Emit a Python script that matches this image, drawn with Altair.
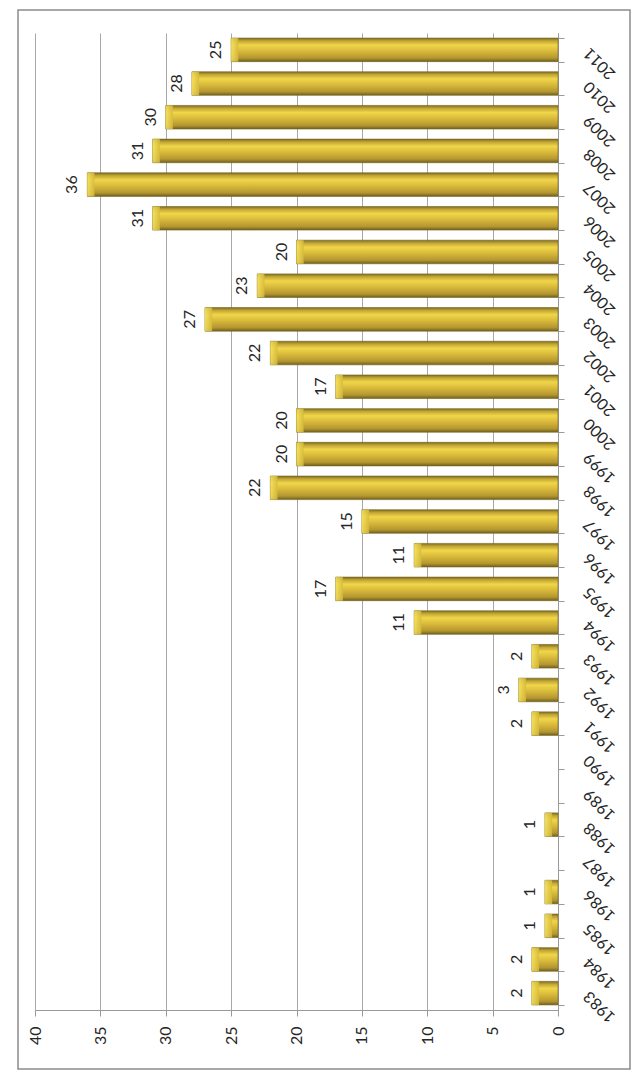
import altair as alt
import pandas as pd

years = [str(y) for y in range(1983, 2012)]
values = [2, 2, 1, 1, 0, 1, 0, 0, 2, 3, 2, 11, 17, 11, 15, 22, 20, 20, 17, 22,
          27, 23, 20, 31, 36, 31, 30, 28, 25]
value_ticks = [0, 5, 10, 15, 20, 25, 30, 35, 40]

df = pd.DataFrame({"year": years, "value": values})

FONT = "Lato"
TEXT = "#262626"
AXIS_GRAY = "#9a9a9a"

x_enc = alt.X(
    "value:Q",
    scale=alt.Scale(domain=[0, 40], reverse=True, nice=False),
    axis=alt.Axis(
        values=value_ticks, orient="bottom", title=None,
        labelAngle=270, labelAlign="right", labelBaseline="middle",
        labelFontSize=16, labelFont=FONT, labelColor=TEXT,
        grid=True, gridColor="#a8a8a8", gridWidth=1,
        tickSize=6, tickColor=AXIS_GRAY, domainColor=AXIS_GRAY,
        labelPadding=10,
    ),
)
y_enc = alt.Y(
    "year:O",
    scale=alt.Scale(domain=years[::-1], paddingInner=0.3, paddingOuter=0.15),
    axis=alt.Axis(
        orient="right", title=None,
        labelAngle=225, labelAlign="right", labelBaseline="middle",
        labelFontSize=16, labelFont=FONT, labelColor=TEXT,
        tickBand="extent", tickSize=6, tickColor=AXIS_GRAY,
        domainColor=AXIS_GRAY, labelPadding=22, grid=False,
    ),
)

gold = alt.Gradient(
    gradient="linear", x1=0, x2=0, y1=0, y2=1,
    stops=[
        alt.GradientStop(offset=0.0, color="#7b6b22"),
        alt.GradientStop(offset=0.12, color="#c2a534"),
        alt.GradientStop(offset=0.3, color="#f0d64a"),
        alt.GradientStop(offset=0.55, color="#d9ba3b"),
        alt.GradientStop(offset=0.85, color="#b49630"),
        alt.GradientStop(offset=1.0, color="#6e5f1f"),
    ],
)
tip_gold = alt.Gradient(
    gradient="linear", x1=0, x2=1, y1=0, y2=0,
    stops=[
        alt.GradientStop(offset=0.0, color="#f8e45c"),
        alt.GradientStop(offset=1.0, color="#d6ba3c"),
    ],
)

base = alt.Chart(df).encode(x=x_enc, y=y_enc)

bars = base.transform_filter("datum.value > 0").mark_bar(
    fill=gold, stroke="#76661f", strokeWidth=0.6
)
axis_holder = base.mark_bar(opacity=0)

tips = base.transform_filter("datum.value > 0").transform_calculate(
    tip="max(datum.value - 0.55, 0)"
).mark_bar(fill=tip_gold, opacity=0.85).encode(x2="tip:Q")

labels = base.transform_filter("datum.value > 0").mark_text(
    angle=270, align="center", baseline="bottom", dy=-7,
    fontSize=16, font=FONT, color=TEXT,
).encode(text="value:Q")

border = alt.Chart(pd.DataFrame({"k": [0]})).mark_rect(
    filled=False, stroke="#8c8c8c", strokeWidth=1.5
).encode(
    x=alt.value(-17), x2=alt.value(595), y=alt.value(-23), y2=alt.value(1036)
)

chart = alt.layer(axis_holder, bars, tips, labels, border).properties(
    width=523, height=977,
    autosize=alt.AutoSizeParams(type="none"),
    padding={"left": 27, "top": 25, "right": 73, "bottom": 61},
    background="white",
).configure_view(strokeWidth=0)

chart.save("out.html", embed_options={"renderer": "svg", "actions": False})
